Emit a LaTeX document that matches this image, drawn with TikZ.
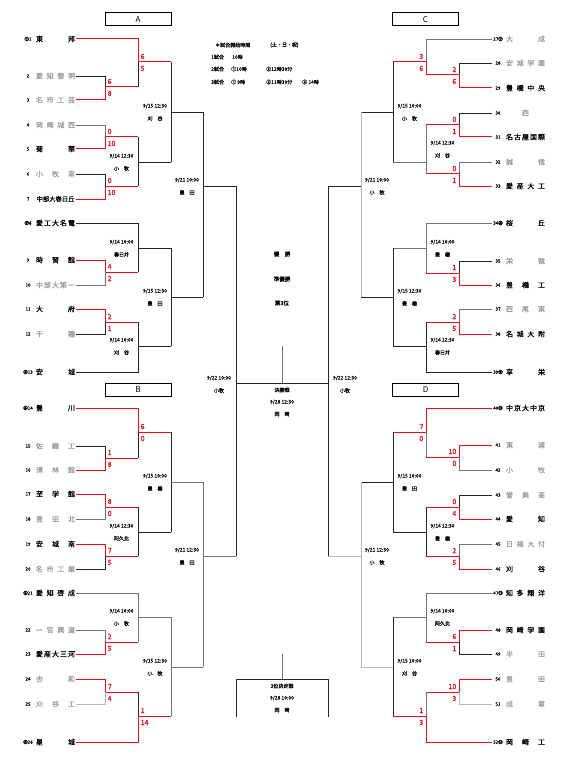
\documentclass[tikz,border=0pt]{standalone}
\usepackage{fontspec}
\setmainfont{Noto Sans CJK JP}
\newfontfamily\jpb[FakeBold=1.2]{Noto Sans CJK JP}
\newfontfamily\jpm[FakeBold=0.7]{Noto Sans CJK JP}
\newfontfamily\jpl[FakeBold=0.35]{Noto Sans CJK JP}
\definecolor{rd}{RGB}{228,16,28}
\definecolor{gt}{RGB}{160,160,160}
\newcommand\tmL[5]{\node[num] (#1n) at (28,#2) {#3};\node[nm,text=#4] (#1) at (55.5,#2) {\makebox[39pt]{#5}};}
\newcommand\tmR[5]{\node[num] (#1n) at (498,#2) {#3};\node[nm,text=#4] (#1) at (525.5,#2) {\makebox[39pt]{#5}};}
\newcommand\sL[4]{\node[sc,anchor=west] at (#1+2.5,#2-5.5) {#3};\node[sc,anchor=west] at (#1+2.5,#2+6.5) {#4};}
\newcommand\sR[4]{\node[sc,anchor=east] at (#1-2.5,#2-5.5) {#3};\node[sc,anchor=east] at (#1-2.5,#2+6.5) {#4};}
\newcommand\lab[4]{\node[lb] at (#1,#2-6) {#3};\node[lb] at (#1,#2+6.5) {#4};}
\begin{document}
\begin{tikzpicture}[x=1pt,y=-1pt,
 k/.style={line width=0.75pt, black!85},
 g/.style={line width=0.75pt, black!55},
 lg/.style={line width=1pt, black!28},
 r/.style={line width=1pt, rd},
 nm/.style={font=\jpm\fontsize{7}{7}\selectfont, inner sep=0pt},
 num/.style={font=\jpl\fontsize{4.5}{5}\selectfont, inner sep=0pt},
 sc/.style={font=\jpb\fontsize{7}{7}\selectfont, text=rd, inner sep=0pt},
 lb/.style={font=\jpl\fontsize{5}{5}\selectfont, inner sep=0pt},
 bx/.style={draw, line width=1pt, minimum width=66pt, minimum height=13pt, inner sep=0pt, font=\rmfamily\fontsize{8}{8}\selectfont}]
\useasboundingbox (0,0) rectangle (565,770);
\fill[white] (0,0) rectangle (565,770);
% boxes
\node[bx] (bA) at (138,19.5) {A};
\node[bx] (bB) at (138,389.5) {B};
\node[bx] (bC) at (425.5,19.5) {C};
\node[bx] (bD) at (425.5,389.5) {D};
% header
\node[lb,anchor=west] (h1) at (215,45) {＊試合開始時間};
\node[lb,anchor=west] (h2) at (270,45) {(土・日・祝)};
\node[lb,anchor=west] (h3) at (211,57) {1試合};
\node[lb,anchor=west] (h4) at (232,57) {10時};
\node[lb,anchor=west] (h5) at (211,69) {2試合};
\node[lb,anchor=west] (h6) at (231,69) {①10時};
\node[lb,anchor=west] (h7) at (266,69) {②12時30分};
\node[lb,anchor=west] (h8) at (211,82) {3試合};
\node[lb,anchor=west] (h9) at (231,82) {① 9時};
\node[lb,anchor=west] (h10) at (266,82) {②11時30分};
\node[lb,anchor=west] (h11) at (302,82) {③ 14時};
% ===== teams left
\tmL{t1}{39}{①1}{black}{東\hfill 邦}
\tmL{t2}{76}{2}{gt}{愛\hfill 知\hfill 黎\hfill 明}
\tmL{t3}{100}{3}{gt}{名\hfill 市\hfill 工\hfill 芸}
\tmL{t4}{125}{4}{gt}{岡\hfill 崎\hfill 城\hfill 西}
\tmL{t5}{149}{5}{black}{菊\hfill 華}
\tmL{t6}{174}{6}{gt}{小\hfill 牧\hfill 南}
\tmL{t7}{199}{7}{black}{\fontsize{6.3}{7}\selectfont 中部大春日丘}
\tmL{t8}{223}{②8}{black}{愛\hfill 工\hfill 大\hfill 名\hfill 電}
\tmL{t9}{260}{9}{black}{時\hfill 習\hfill 館}
\tmL{t10}{285}{10}{gt}{中\hfill 部\hfill 大\hfill 第\hfill 一}
\tmL{t11}{309}{11}{black}{大\hfill 府}
\tmL{t12}{334}{12}{gt}{千\hfill 種}
\tmL{t13}{372}{③13}{black}{安\hfill 城}
\tmL{t14}{408}{④14}{black}{豊\hfill 川}
\tmL{t15}{446}{15}{gt}{佐\hfill 織\hfill 工}
\tmL{t16}{470}{16}{gt}{清\hfill 林\hfill 館}
\tmL{t17}{494}{17}{black}{至\hfill 学\hfill 館}
\tmL{t18}{519}{18}{gt}{豊\hfill 田\hfill 北}
\tmL{t19}{544}{19}{black}{安\hfill 城\hfill 南}
\tmL{t20}{569}{20}{gt}{名\hfill 市\hfill 工\hfill 業}
\tmL{t21}{593}{⑤21}{black}{愛\hfill 知\hfill 啓\hfill 成}
\tmL{t22}{630}{22}{gt}{一\hfill 宮\hfill 興\hfill 道}
\tmL{t23}{654}{23}{black}{愛\hfill 産\hfill 大\hfill 三\hfill 河}
\tmL{t24}{679}{24}{gt}{杏\hfill 和}
\tmL{t25}{704}{25}{gt}{刈\hfill 谷\hfill 工}
\tmL{t26}{742}{⑥26}{black}{星\hfill 城}
% ===== teams right
\tmR{t27}{39}{27⑦}{gt}{大\hfill 成}
\tmR{t28}{63}{28}{gt}{安\hfill 城\hfill 学\hfill 園}
\tmR{t29}{88}{29}{black}{豊\hfill 橋\hfill 中\hfill 央}
\tmR{t30}{113}{30}{gt}{\hfill 西\hfill}
\tmR{t31}{137}{31}{black}{名\hfill 古\hfill 屋\hfill 国\hfill 際}
\tmR{t32}{162}{32}{gt}{誠\hfill 信}
\tmR{t33}{186}{33}{black}{愛\hfill 産\hfill 大\hfill 工}
\tmR{t34}{223}{34⑧}{black}{桜\hfill 丘}
\tmR{t35}{261}{35}{gt}{栄\hfill 徳}
\tmR{t36}{285}{36}{black}{豊\hfill 橋\hfill 工}
\tmR{t37}{309}{37}{gt}{西\hfill 尾\hfill 東}
\tmR{t38}{334}{38}{black}{名\hfill 城\hfill 大\hfill 附}
\tmR{t39}{372}{39⑨}{black}{享\hfill 栄}
\tmR{t40}{408}{40⑩}{black}{中\hfill 京\hfill 大\hfill 中\hfill 京}
\tmR{t41}{445}{41}{gt}{東\hfill 浦}
\tmR{t42}{470}{42}{gt}{小\hfill 牧}
\tmR{t43}{495}{43}{gt}{誉\hfill 美\hfill 高}
\tmR{t44}{519}{44}{black}{愛\hfill 知}
\tmR{t45}{544}{45}{gt}{日\hfill 福\hfill 大\hfill 付}
\tmR{t46}{569}{46}{black}{刈\hfill 谷}
\tmR{t47}{593}{47⑪}{black}{知\hfill 多\hfill 翔\hfill 洋}
\tmR{t48}{630}{48}{black}{岡\hfill 崎\hfill 学\hfill 園}
\tmR{t49}{654}{49}{gt}{半\hfill 田}
\tmR{t50}{679}{50}{gt}{豊\hfill 田}
\tmR{t51}{704}{51}{gt}{成\hfill 章}
\tmR{t52}{742}{52⑫}{black}{岡\hfill 崎\hfill 工}
% ===== lines left A
\draw[r] (76,39)--(138,39)--(138,62)--(171,62);
\draw[k] (138,62)--(138,87);
\draw[k] (76,76)--(105,76)--(105,87);
\draw[r] (76,100)--(105,100)--(105,87)--(138,87);
\draw[g] (76,125)--(105,125)--(105,137);
\draw[r] (76,149)--(105,149)--(105,137)--(138,137);
\draw[k] (76,174)--(105,174)--(105,186);
\draw[r] (76,199)--(105,199)--(105,186)--(138,186);
\draw[k] (138,137)--(138,186) (138,162)--(171,162);
\draw[k] (171,62)--(171,162) (171,112)--(203,112);
\draw[k] (76,223)--(138,223)--(138,272) (138,248)--(171,248);
\draw[r] (76,260)--(105,260)--(105,272)--(138,272);
\draw[g] (76,285)--(105,285)--(105,272);
\draw[r] (76,309)--(105,309)--(105,322)--(138,322);
\draw[k] (76,334)--(105,334)--(105,322);
\draw[k] (76,372)--(138,372)--(138,322) (138,346)--(171,346);
\draw[k] (171,248)--(171,346) (171,297)--(203,297);
\draw[k] (203,112)--(203,297) (203,186)--(236,186);
% B
\draw[r] (76,408)--(138,408)--(138,432)--(171,432);
\draw[k] (138,432)--(138,458);
\draw[k] (76,446)--(105,446)--(105,458);
\draw[r] (76,470)--(105,470)--(105,458)--(138,458);
\draw[r] (76,494)--(105,494)--(105,507)--(138,507);
\draw[g] (76,519)--(105,519)--(105,507);
\draw[r] (76,544)--(105,544)--(105,556)--(138,556);
\draw[k] (76,569)--(105,569)--(105,556);
\draw[k] (138,507)--(138,556) (138,532)--(171,532);
\draw[k] (171,432)--(171,532);
\draw[g] (171,482)--(203,482);
\draw[g] (76,593)--(138,593)--(138,642) (138,617)--(171,617);
\draw[g] (76,630)--(105,630)--(105,642);
\draw[r] (76,654)--(105,654)--(105,642)--(138,642);
\draw[r] (76,679)--(105,679)--(105,692)--(138,692);
\draw[lg] (76,704)--(105,704)--(105,692);
\draw[k] (138,692)--(138,716);
\draw[r] (76,742)--(138,742)--(138,716)--(171,716);
\draw[g] (171,617)--(171,716) (171,667)--(203,667);
\draw[g] (203,482)--(203,667) (203,556)--(236,556);
% center
\draw[k] (236,186)--(236,556) (328,186)--(328,556);
\draw[k] (236,383)--(328,383);
\draw[g] (282,346)--(282,383);
\draw[g] (282,654)--(282,679);
\draw[k] (236,717)--(236,679)--(328,679)--(328,717);
% ===== right C
\draw[g] (492,39)--(426,39)--(426,62);
\draw[r] (426,75)--(426,62)--(393,62);
\draw[k] (492,63)--(459,63)--(459,75);
\draw[r] (492,88)--(459,88)--(459,75)--(426,75);
\draw[k] (492,113)--(459,113)--(459,125);
\draw[r] (492,137)--(459,137)--(459,125)--(426,125);
\draw[g] (492,162)--(459,162)--(459,174);
\draw[r] (492,186)--(459,186)--(459,174)--(426,174);
\draw[g] (426,125)--(426,174) (426,162)--(393,162);
\draw[k] (393,62)--(393,162) (393,112)--(361,112);
\draw[g] (492,223)--(426,223)--(426,273) (426,248)--(393,248);
\draw[k] (492,261)--(459,261)--(459,273);
\draw[r] (492,285)--(459,285)--(459,273)--(426,273);
\draw[g] (492,309)--(459,309)--(459,322);
\draw[r] (492,334)--(459,334)--(459,322)--(426,322);
\draw[k] (492,372)--(426,372)--(426,322) (426,346)--(393,346);
\draw[k] (393,248)--(393,346) (393,297)--(361,297);
\draw[lg] (361,112)--(361,297);
\draw[k] (361,186)--(328,186);
% D
\draw[r] (492,408)--(426,408)--(426,432)--(393,432);
\draw[g] (426,432)--(426,457);
\draw[r] (492,445)--(459,445)--(459,457)--(426,457);
\draw[g] (492,470)--(459,470)--(459,457);
\draw[k] (492,495)--(459,495)--(459,507);
\draw[r] (492,519)--(459,519)--(459,507)--(426,507);
\draw[g] (492,544)--(459,544)--(459,556);
\draw[r] (492,569)--(459,569)--(459,556)--(426,556);
\draw[k] (426,507)--(426,556) (426,532)--(393,532);
\draw[k] (393,432)--(393,532) (393,482)--(361,482);
\draw[g] (492,593)--(426,593)--(426,642) (426,617)--(393,617);
\draw[r] (492,630)--(459,630)--(459,642)--(426,642);
\draw[k] (492,654)--(459,654)--(459,642);
\draw[r] (492,679)--(459,679)--(459,692)--(426,692);
\draw[lg] (492,704)--(459,704)--(459,692);
\draw[g] (426,692)--(426,716);
\draw[r] (492,742)--(426,742)--(426,716)--(393,716);
\draw[k] (393,617)--(393,716);
\draw[lg] (393,667)--(361,667);
\draw[lg] (361,482)--(361,667) (361,556)--(328,556);
% ===== scores
\sL{138}{62}{6}{5}
\sL{105}{87}{6}{8}
\sL{105}{137}{0}{10}
\sL{105}{186}{0}{10}
\sL{105}{272}{4}{2}
\sL{105}{322}{2}{1}
\sL{138}{432}{6}{0}
\sL{105}{458}{1}{8}
\sL{105}{507}{8}{0}
\sL{105}{556}{7}{5}
\sL{105}{642}{2}{5}
\sL{105}{692}{7}{4}
\sL{138}{716}{1}{14}
\sR{426}{62}{3}{6}
\sR{459}{75}{2}{6}
\sR{459}{125}{0}{1}
\sR{459}{174}{0}{1}
\sR{459}{273}{1}{3}
\sR{459}{322}{2}{5}
\sR{426}{432}{7}{0}
\sR{459}{457}{10}{0}
\sR{459}{507}{0}{4}
\sR{459}{556}{2}{5}
\sR{459}{642}{6}{1}
\sR{459}{692}{10}{3}
\sR{426}{716}{1}{3}
% ===== labels
\lab{121.5}{162}{9/14 12:30}{小　牧}
\lab{155}{112}{9/15 12:30}{刈　谷}
\lab{187}{186}{9/21 10:00}{豊　田}
\lab{121.5}{248}{9/14 10:00}{春日井}
\lab{121.5}{346}{9/14 10:00}{刈　谷}
\lab{155}{297}{9/15 12:30}{豊　田}
\lab{155}{482}{9/15 10:00}{豊　橋}
\lab{121.5}{532}{9/14 12:30}{阿久比}
\lab{187}{556}{9/21 12:30}{豊　田}
\lab{121.5}{617}{9/14 10:00}{小　牧}
\lab{155}{667}{9/15 12:30}{小　牧}
\lab{409.5}{112}{9/15 10:00}{小　牧}
\lab{442.5}{149}{9/14 12:30}{刈　谷}
\lab{377}{186}{9/21 10:00}{小　牧}
\lab{442.5}{248}{9/14 10:00}{豊　橋}
\lab{442.5}{346}{9/14 12:30}{春日井}
\lab{409.5}{297}{9/15 12:30}{豊　橋}
\lab{409.5}{482}{9/15 10:00}{豊　田}
\lab{442.5}{532}{9/14 12:30}{豊　橋}
\lab{377}{556}{9/21 12:30}{小　牧}
\lab{442.5}{617}{9/14 10:00}{阿久比}
\lab{409.5}{667}{9/15 10:00}{刈　谷}
\lab{219}{384}{9/22 10:00}{小牧}
\lab{345}{384}{9/22 12:30}{小牧}
\node[lb] (f1) at (282,390) {決勝戦};
\node[lb] (f2) at (282,402) {9/28 12:30};
\node[lb] (f3) at (282,414) {岡　崎};
\node[lb,font=\jpm\fontsize{5.5}{6}\selectfont] (w1) at (282,254) {優　勝};
\node[lb,font=\jpm\fontsize{5.5}{6}\selectfont] (w2) at (282,279) {準優勝};
\node[lb,font=\jpm\fontsize{5.5}{6}\selectfont] (w3) at (282,303) {第3位};
\node[lb] (p1) at (282,686) {3位決定戦};
\node[lb] (p2) at (282,698) {9/28 10:00};
\node[lb] (p3) at (282,710) {岡　崎};
\end{tikzpicture}
\end{document}
